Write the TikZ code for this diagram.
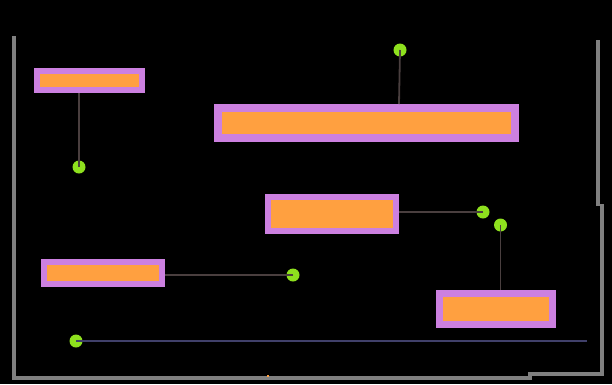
\documentclass[tikz,border=0pt]{standalone}
\usepackage{xcolor}
\usepackage{tikz}
\usetikzlibrary{positioning}

\definecolor{boxfill}{HTML}{FFA040}
\definecolor{boxedge}{HTML}{CC80E0}
\definecolor{ballgreen}{HTML}{8EE01E}
\definecolor{wallgray}{HTML}{808080}
\definecolor{roddark}{HTML}{4A3F3F}
\definecolor{rodblue}{HTML}{40406A}

\begin{document}
\begin{tikzpicture}[x=1pt,y=-1pt,
	box/.style={rectangle,fill=boxfill,draw=boxedge,line width=6pt,inner sep=0pt},
	ball/.style={circle,fill=ballgreen,minimum size=13pt,inner sep=0pt},
	rod/.style={draw=roddark,line width=1.8pt},
	wall/.style={draw=wallgray,line width=4pt}]
			\fill[black] (0,0) rectangle (612,384);
			\useasboundingbox (0,0) rectangle (612,384);
			
			% walls
			\draw[wall] (14,36) -- (14,377.5) -- (530,377.5) -- (530,373.5) -- (602,373.5) -- (602,204);
			\draw[wall] (598,206) -- (598,40);
			\fill[boxfill] (267,375) rectangle (269,377);
			
			% boxes
			\node[box,minimum width=105pt,minimum height=19pt] (box1) at (89.5,80.5) {};
			\node[box,line width=8pt,minimum width=297pt,minimum height=30pt] (box2) at (366.5,123) {};
			\node[box,minimum width=128pt,minimum height=34pt] (box3) at (332,214) {};
			\node[box,minimum width=118pt,minimum height=22pt] (box4) at (103,273) {};
			\node[box,line width=7pt,minimum width=113pt,minimum height=31pt] (box5) at (496,309) {};
			
			% balls
			\node[ball] (b1) at (400,50) {};
			\node[ball] (b2) at (79,167) {};
			\node[ball] (b3) at (483,212) {};
			\node[ball] (b4) at (500.5,225) {};
			\node[ball] (b5) at (293,275) {};
			\node[ball] (b6) at (76,341) {};
			\coordinate (end6) at (587,341);
			
			% rods
			\draw[rod] (b1.center) -- ([xshift=-1pt]b1.center |- box2.north);
			\draw[rod] (b2.center) -- (b2.center |- box1.south);
			\draw[rod] (b3.center) -- (b3.center -| box3.east);
			\draw[rod] (b4.center) -- (b4.center |- box5.north);
			\draw[rod] (b5.center) -- (b5.center -| box4.east);
			\draw[draw=rodblue,line width=1.8pt] (b6.center) -- (end6);
		\end{tikzpicture}
\end{document}
